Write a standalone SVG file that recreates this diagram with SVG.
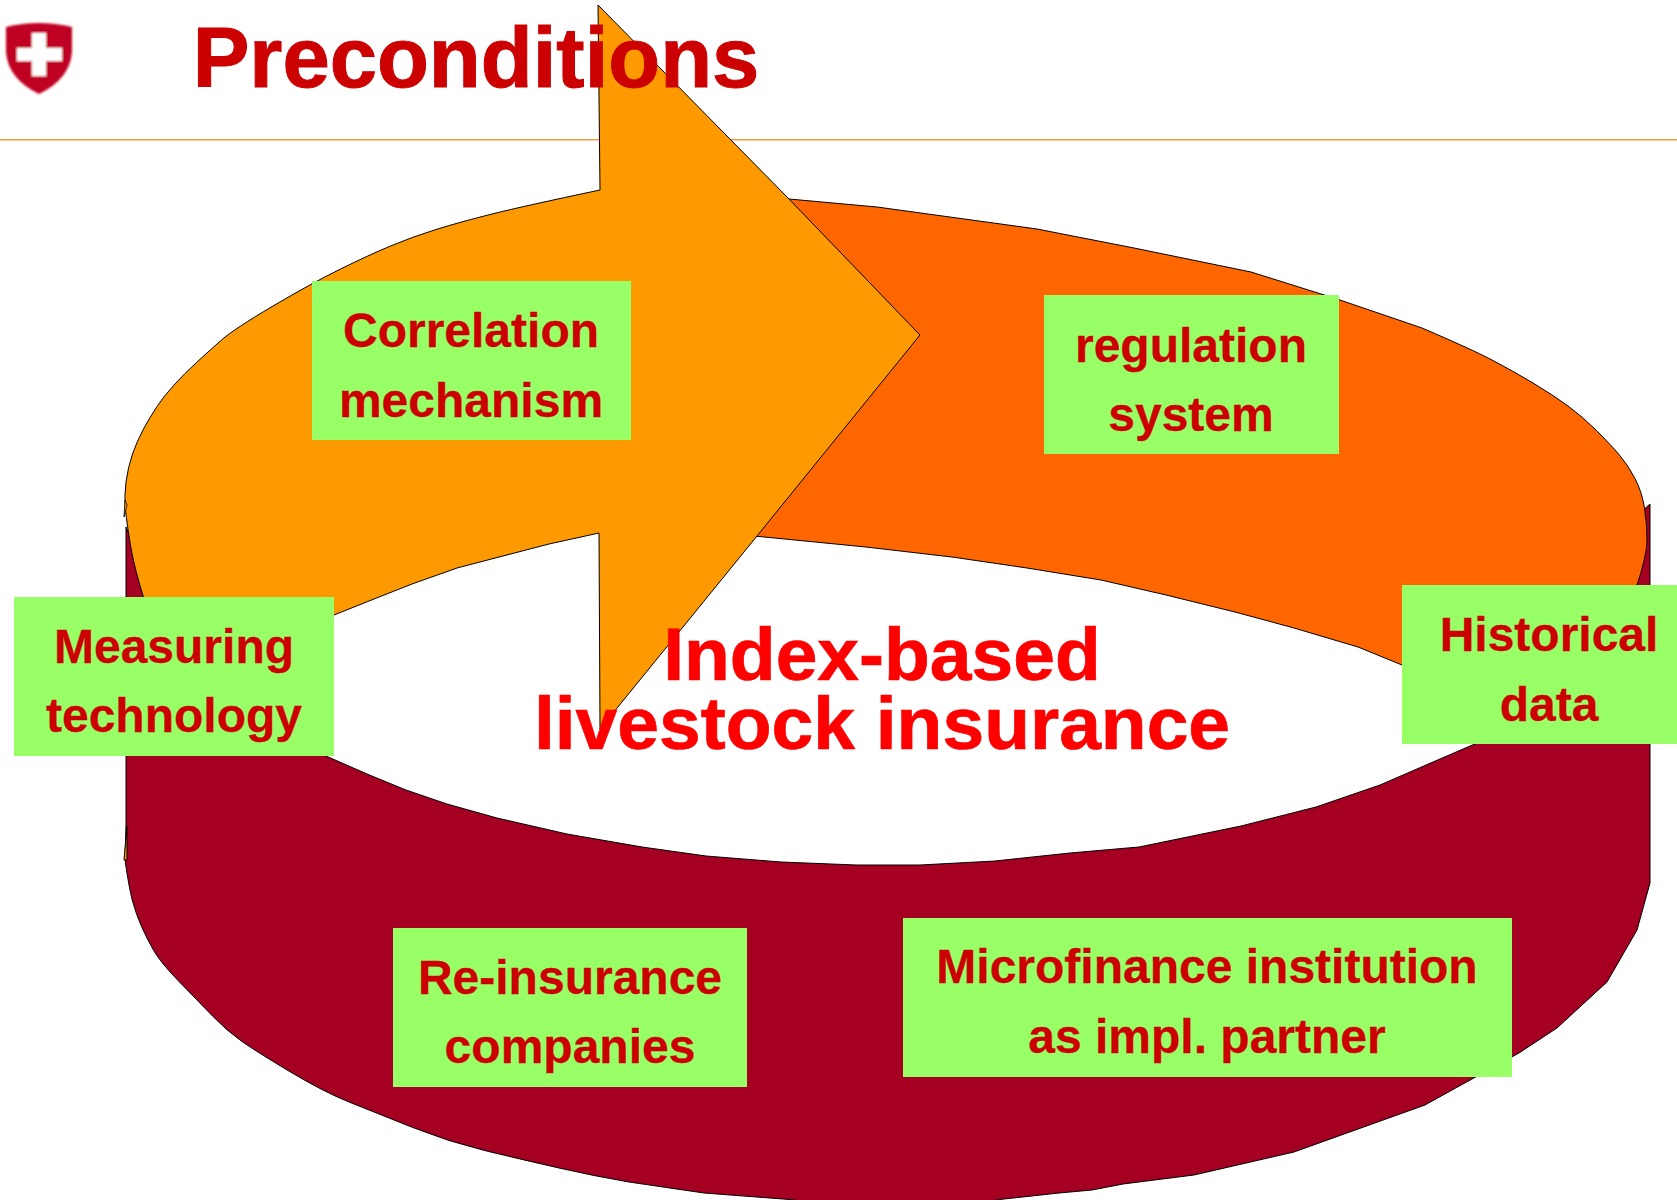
<svg xmlns="http://www.w3.org/2000/svg" width="1677" height="1200" viewBox="0 0 1677 1200">
<style>
.band{stroke:#000;stroke-width:1;stroke-linejoin:round}
.box{fill:#99FF66}
text{font-family:"Liberation Sans",Arial,sans-serif;font-weight:bold;text-anchor:middle}
.lab{font-size:48px;fill:#CC0000;stroke:#CC0000;stroke-width:.3}
.mid{font-size:75px;fill:#FF0000;stroke:#FF0000;stroke-width:.7}
.head{font-size:85px;fill:#CC0000;stroke:#CC0000;stroke-width:1}
</style>
<defs><filter id="soft" x="-5%" y="-5%" width="110%" height="110%"><feGaussianBlur stdDeviation="0.8"/></filter></defs>
<rect width="1677" height="1200" fill="#fff"/>
<g id="logo" filter="url(#soft)">
<path d="M6 27Q38 19 72 27L72 52Q70 79 39 94Q8 79 6 52Z" fill="#C00020"/>
<path d="M32 33H46V48H62V61H46V76H32V61H17V48H32Z" fill="#fff"/>
</g>
<path id="rule" d="M0 139.7H1677" stroke="#F59B45" stroke-width="1.4" fill="none"/>
<g id="connectors">
<path class="band" fill="#A50021" d="M126 527V824L125 860Q129 888 132.5 901Q136 914 141.5 926.5Q147 939 154 951Q161 963 179.5 982Q198 1001 212.5 1016Q227 1031 242 1041.5Q257 1052 290.5 1072Q324 1092 349 1102Q374 1112 411.5 1127Q449 1142 486.5 1151Q524 1160 559 1168Q594 1176 629 1182Q663 1187 704 1193L796 1200V1202H995V1200L1059 1193L1092 1190L1123 1184L1194 1175L1294 1152L1425 1105L1519 1053L1557 1028L1607 982L1637 930L1650 883V504L1500 640L1477 743L1433 762L1380 785L1316 807L1241 826L1139 847L1070 853L995 861L920 865H856L781 862L706 856L642 847L567 834L497 818L447 804L406 790L367 774L326 756L200 700Z"/>
<path class="band" fill="#FF6600" d="M789 199L877 207L1037 229L1134 248L1251 272L1337 299L1422 328Q1471 349 1492 360Q1513 371 1533 383Q1553 395 1568 406Q1583 417 1596.5 430.5Q1610 444 1619 454.5Q1628 465 1635 478.5Q1642 492 1644.5 508Q1647 524 1647 540Q1647 556 1636 588L1402 665L1358 647L1294 628L1235 612L1166 595L1101 580L1027 568L952 557L866 547L754 536L700 400Z"/>
<path class="band" fill="#FF9900" d="M598 5L789 199L920 335L757 536L600 729L599 533L549 544L457 568L412 584L374 599L334 615L144 599Q134 567 130.5 545.5Q127 524 125.5 510.5Q124 497 126 482Q128 467 132.5 454Q137 441 143.5 429Q150 417 157 406.5Q164 396 174 385Q184 374 196.5 362.5Q209 351 221.5 340Q234 329 273 306Q312 283 340.5 269Q369 255 390.5 246Q412 237 436 229.5Q460 222 492 214Q524 206 600 190Z"/>
<path fill="#FF9900" stroke="#000" d="M124 860L127 826V860Z"/>
<path fill="#FF9900" stroke="#000" stroke-width=".8" d="M124 517L125 500L127 505Z"/>
</g>
<g id="title"><text class="head" x="476" y="87">Preconditions</text></g>
<g id="center-label"><text class="mid" x="882" y="680">Index-based</text><text class="mid" x="882" y="749">livestock insurance</text></g>
<g id="correlation"><rect class="box" x="312" y="281" width="319" height="159"/><text class="lab" x="471" y="347">Correlation</text><text class="lab" x="471" y="417">mechanism</text></g>
<g id="regulation"><rect class="box" x="1044" y="295" width="295" height="159"/><text class="lab" x="1191" y="362">regulation</text><text class="lab" x="1191" y="431">system</text></g>
<g id="measuring"><rect class="box" x="14" y="597" width="320" height="159"/><text class="lab" x="174" y="663">Measuring</text><text class="lab" x="174" y="732">technology</text></g>
<g id="historical"><rect class="box" x="1402" y="585" width="275" height="159"/><text class="lab" x="1549" y="651">Historical</text><text class="lab" x="1549" y="721">data</text></g>
<g id="reinsurance"><rect class="box" x="393" y="928" width="354" height="159"/><text class="lab" x="570" y="994">Re-insurance</text><text class="lab" x="570" y="1063">companies</text></g>
<g id="microfinance"><rect class="box" x="903" y="918" width="609" height="159"/><text class="lab" x="1207" y="983">Microfinance institution</text><text class="lab" x="1207" y="1053">as impl. partner</text></g>
</svg>
